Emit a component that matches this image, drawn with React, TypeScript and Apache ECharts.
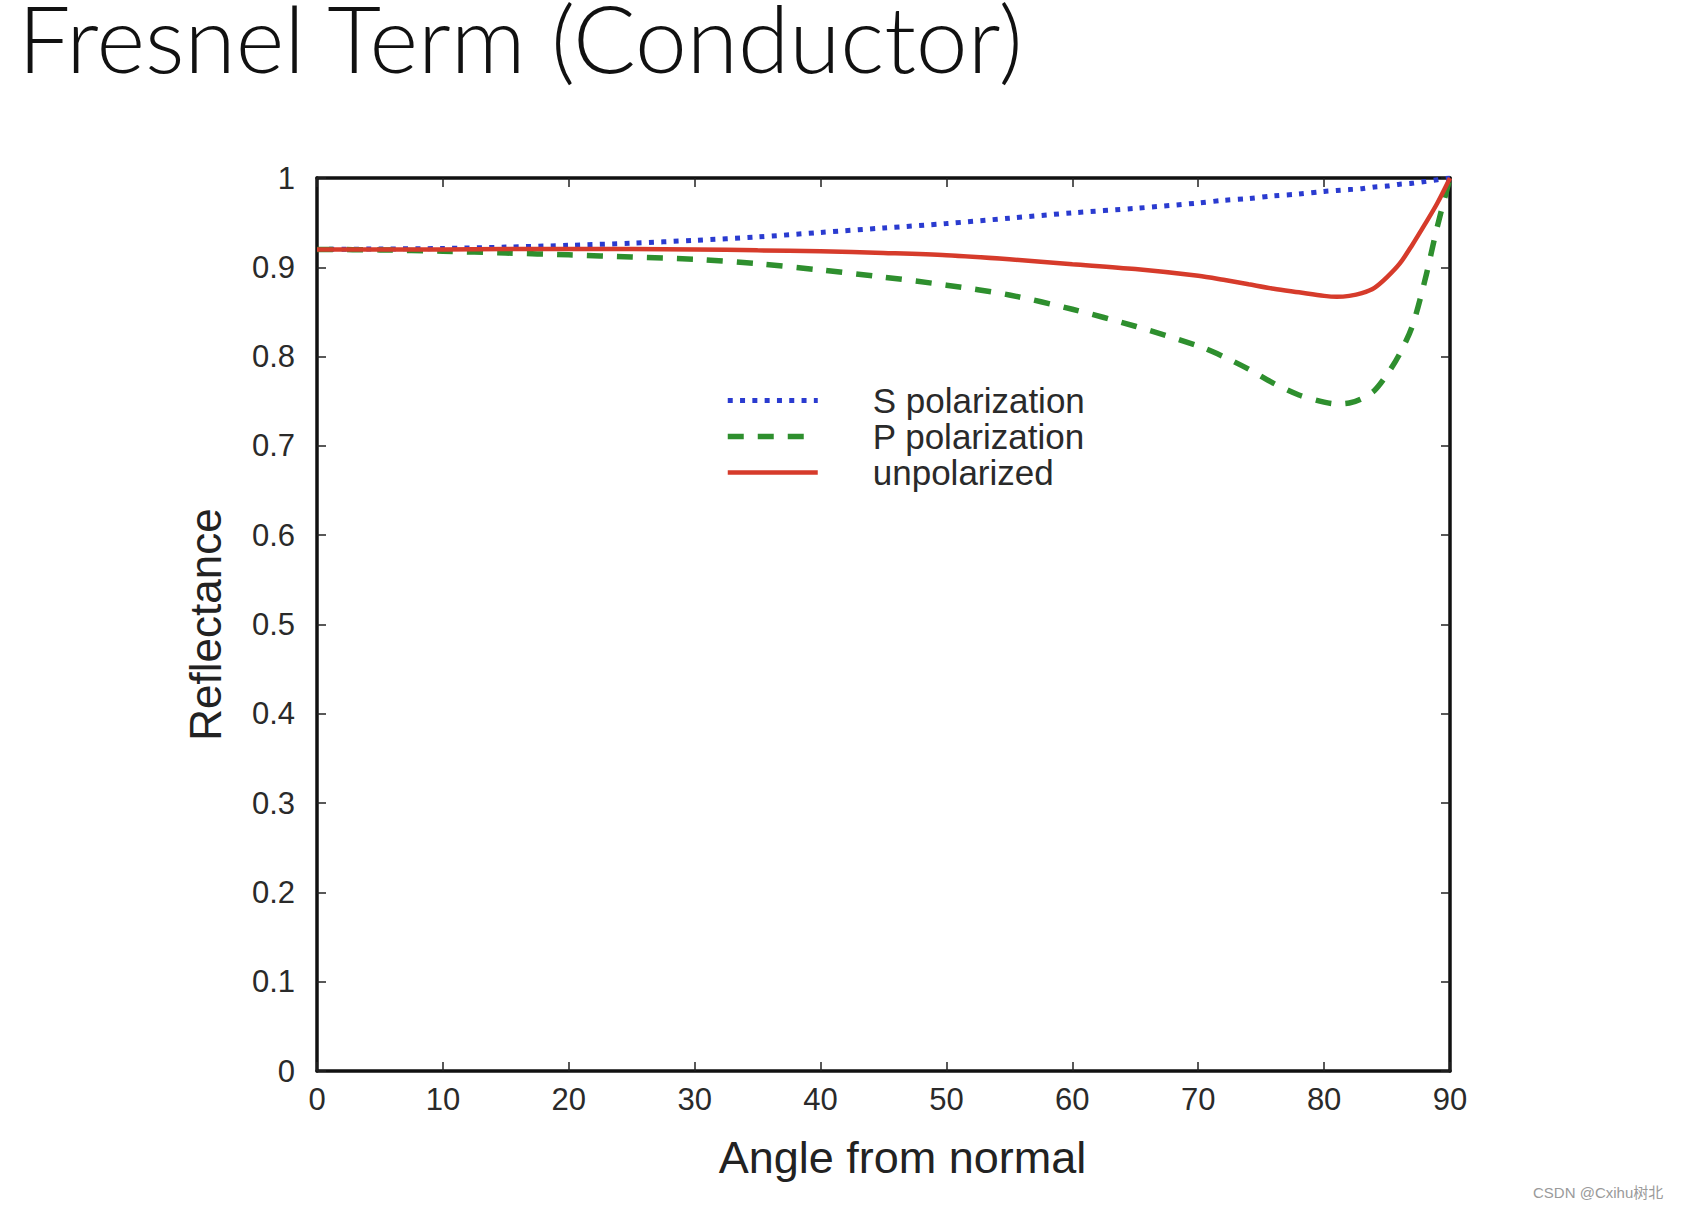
import React, { useEffect, useRef } from "react";
import * as echarts from "echarts";

const titleText = "Fresnel Term (Conductor)";
const xAxisName = "Angle from normal";
const yAxisName = "Reflectance";
const seriesNames = ["S polarization", "P polarization", "unpolarized"];
const watermark = "CSDN @Cxihu树北";

const angles = [0, 5, 10, 15, 20, 25, 30, 35, 40, 45, 50, 55, 60, 65, 70, 72, 74, 76, 78, 80, 81, 82, 83, 84, 85, 86, 87, 88, 89, 90];
const sPol = [0.92, 0.9205, 0.9211, 0.9226, 0.9246, 0.927, 0.9302, 0.934, 0.939, 0.944, 0.949, 0.955, 0.961, 0.966, 0.972, 0.975, 0.977, 0.98, 0.982, 0.985, 0.986, 0.987, 0.988, 0.99, 0.991, 0.993, 0.994, 0.996, 0.998, 1.0];
const pPol = [0.92, 0.9195, 0.918, 0.916, 0.914, 0.9115, 0.909, 0.904, 0.897, 0.889, 0.88, 0.869, 0.853, 0.834, 0.812, 0.8, 0.786, 0.77, 0.757, 0.749, 0.747, 0.748, 0.753, 0.762, 0.78, 0.803, 0.834, 0.885, 0.946, 1.0];
const unpol = [0.92, 0.92, 0.92, 0.9205, 0.9205, 0.9205, 0.92, 0.919, 0.918, 0.916, 0.9135, 0.909, 0.9035, 0.898, 0.8905, 0.886, 0.881, 0.876, 0.872, 0.868, 0.867, 0.868, 0.871, 0.877, 0.889, 0.904, 0.925, 0.948, 0.972, 1.0];

const pair = (ys: number[]) => angles.map((a, i) => [a, ys[i]]);

const sStyle = { color: "#2a3bd0", width: 5, type: [5, 7.3], cap: "butt" };
const pStyle = { color: "#2e8f2e", width: 5.5, type: [16, 14], cap: "butt" };
const uStyle = { color: "#d63b2b", width: 4.5, type: "solid" };

export default function App() {
  const ref = useRef<HTMLDivElement>(null);
  useEffect(() => {
    document.body.style.margin = "0";
    const chart = echarts.init(ref.current!, null, { renderer: "svg" });
    const font = "Liberation Sans";
    const tick = { show: true, inside: true, length: 9, lineStyle: { color: "#222", width: 1.5 } };
    const line = { show: true, onZero: false, lineStyle: { color: "#111", width: 3.5 } };
    chart.setOption({
      animation: false,
      backgroundColor: "#ffffff",
      title: {
        text: titleText,
        left: 13,
        top: -3,
        textStyle: { fontFamily: "Lato", fontWeight: 300, fontSize: 93, lineHeight: 70, color: "#111" },
      },
      legend: {
        orient: "vertical",
        left: 720,
        top: 378,
        itemWidth: 90,
        itemHeight: 14,
        itemGap: 1,
        itemStyle: { opacity: 0, borderWidth: 0 },
        data: [
          { name: seriesNames[0], lineStyle: sStyle },
          { name: seriesNames[1], lineStyle: pStyle },
          { name: seriesNames[2], lineStyle: uStyle },
        ],
        textStyle: { fontFamily: font, fontSize: 35, lineHeight: 34, color: "#2a2a2a", padding: [0, 0, 0, 50] },
      },
      grid: { left: 317, top: 178, width: 1133, height: 893 },
      xAxis: [
        {
          type: "value", min: 0, max: 90, interval: 10, position: "bottom",
          axisLine: line, axisTick: tick, splitLine: { show: false },
          axisLabel: { fontFamily: font, fontSize: 31, color: "#2a2a2a", margin: 13 },
          name: xAxisName, nameLocation: "middle", nameGap: 64,
          nameTextStyle: { fontFamily: font, fontSize: 45, color: "#222", padding: [0, 0, 0, 38] },
        },
        {
          type: "value", min: 0, max: 90, interval: 10, position: "top",
          axisLine: line, axisTick: tick, splitLine: { show: false }, axisLabel: { show: false },
        },
      ],
      yAxis: [
        {
          type: "value", min: 0, max: 1, interval: 0.1, position: "left",
          axisLine: line, axisTick: tick, splitLine: { show: false },
          axisLabel: {
            fontFamily: font, fontSize: 31, color: "#2a2a2a", margin: 22,
            formatter: (v: number) => String(Math.round(v * 10) / 10),
          },
          name: yAxisName, nameLocation: "middle", nameGap: 90, nameRotate: 90,
          nameTextStyle: { fontFamily: font, fontSize: 44, color: "#222" },
        },
        {
          type: "value", min: 0, max: 1, interval: 0.1, position: "right",
          axisLine: line, axisTick: tick, splitLine: { show: false }, axisLabel: { show: false },
        },
      ],
      series: [
        {
          name: seriesNames[0], type: "line", data: pair(sPol), symbol: "none", smooth: 0.3,
          lineStyle: sStyle, itemStyle: { color: sStyle.color },
        },
        {
          name: seriesNames[1], type: "line", data: pair(pPol), symbol: "none", smooth: 0.3,
          lineStyle: pStyle, itemStyle: { color: pStyle.color },
        },
        {
          name: seriesNames[2], type: "line", data: pair(unpol), symbol: "none", smooth: 0.3,
          lineStyle: uStyle, itemStyle: { color: uStyle.color },
        },
      ],
      graphic: [
        {
          type: "text", left: 1533, top: 1185,
          style: { text: watermark, fontFamily: "Liberation Sans, Noto Sans CJK SC", fontSize: 15, fill: "#9a9a9a" },
        },
      ],
    });
    return () => chart.dispose();
  }, []);
  return <div ref={ref} style={{ position: "absolute", left: 0, top: 0, width: 1685, height: 1213 }} />;
}
